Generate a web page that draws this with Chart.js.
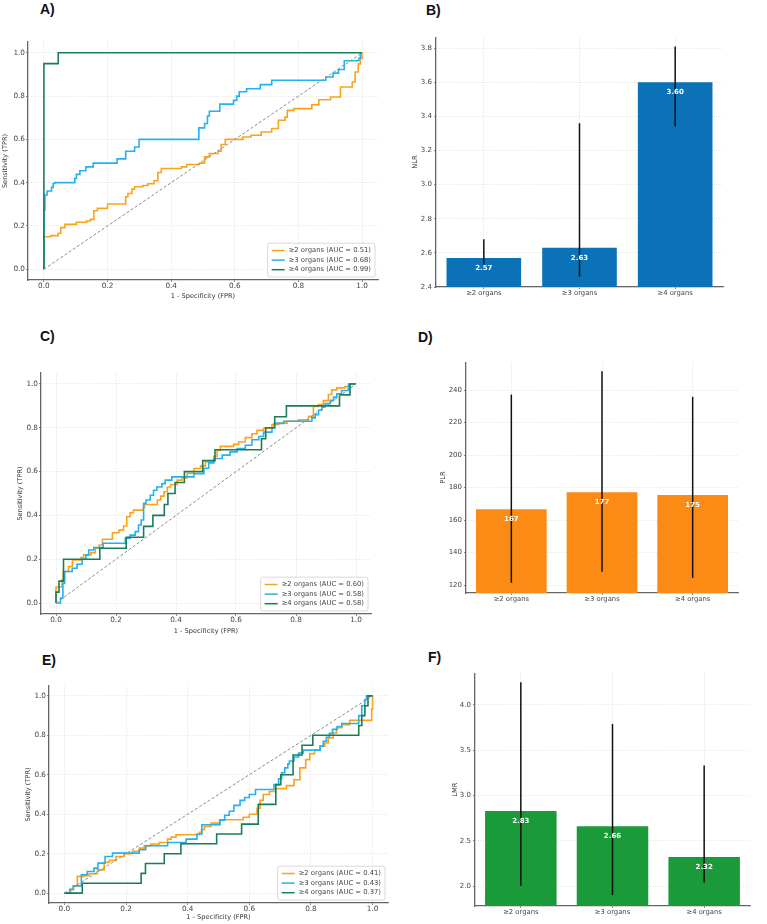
<!DOCTYPE html>
<html>
<head>
<meta charset="utf-8">
<script src="https://cdn.jsdelivr.net/npm/chart.js@4.4.1/dist/chart.umd.min.js"></script>
<style>
  body { margin: 0; background: #fff; }
  #fig { position: relative; width: 767px; height: 924px; overflow: hidden; background: #fff; }
  #fig canvas { position: absolute; }
  .tag { position: absolute; font: bold 14px "Liberation Sans", Arial, sans-serif; line-height: 14px; color: #111; }
</style>
</head>
<body>
<div id="fig">
  <div class="tag" style="left:40px;top:2px">A)</div>
  <div class="tag" style="left:426px;top:3px">B)</div>
  <div class="tag" style="left:40px;top:329px">C)</div>
  <div class="tag" style="left:418px;top:330px">D)</div>
  <div class="tag" style="left:42px;top:653px">E)</div>
  <div class="tag" style="left:428px;top:650px">F)</div>
  <canvas id="cA"></canvas>
  <canvas id="cB"></canvas>
  <canvas id="cC"></canvas>
  <canvas id="cD"></canvas>
  <canvas id="cE"></canvas>
  <canvas id="cF"></canvas>
</div>
<script>
// ---- data ----
const groups = ['≥2 organs', '≥3 organs', '≥4 organs'];
const rocTicks = [0, 0.2, 0.4, 0.6, 0.8, 1.0];
const chance = [[0, 0], [1, 1]];

// A) NLR ROC, points are (FPR, TPR)
const aucA = [0.51, 0.68, 0.99];
const rocA2 = [[0,0],[0,0.15],[0.022,0.15],[0.022,0.155],[0.045,0.155],[0.045,0.166],[0.053,0.166],[0.053,0.192],[0.066,0.192],[0.066,0.207],[0.102,0.207],[0.102,0.217],[0.134,0.217],[0.134,0.223],[0.146,0.223],[0.146,0.23],[0.157,0.23],[0.157,0.27],[0.168,0.27],[0.168,0.281],[0.2,0.281],[0.2,0.301],[0.257,0.301],[0.257,0.335],[0.264,0.335],[0.264,0.35],[0.277,0.35],[0.277,0.37],[0.285,0.37],[0.285,0.381],[0.311,0.381],[0.311,0.387],[0.327,0.387],[0.327,0.395],[0.346,0.395],[0.346,0.409],[0.358,0.409],[0.358,0.447],[0.369,0.447],[0.369,0.465],[0.432,0.465],[0.432,0.473],[0.449,0.473],[0.449,0.484],[0.489,0.484],[0.489,0.49],[0.505,0.49],[0.505,0.519],[0.52,0.519],[0.52,0.535],[0.547,0.535],[0.547,0.545],[0.557,0.545],[0.557,0.576],[0.57,0.576],[0.57,0.6],[0.625,0.6],[0.625,0.611],[0.651,0.611],[0.651,0.619],[0.683,0.619],[0.683,0.634],[0.716,0.634],[0.716,0.65],[0.737,0.65],[0.737,0.688],[0.758,0.688],[0.758,0.703],[0.765,0.703],[0.765,0.734],[0.786,0.734],[0.786,0.742],[0.842,0.742],[0.842,0.76],[0.864,0.76],[0.864,0.783],[0.901,0.783],[0.901,0.796],[0.932,0.796],[0.932,0.842],[0.969,0.842],[0.969,0.865],[0.978,0.865],[0.978,0.911],[0.988,0.911],[0.988,0.949],[0.995,0.949],[0.995,0.975],[1,0.975],[1,1]];
const rocA3 = [[0,0],[0,0.273],[0.003,0.273],[0.003,0.343],[0.01,0.343],[0.01,0.361],[0.024,0.361],[0.024,0.378],[0.029,0.378],[0.029,0.396],[0.034,0.396],[0.034,0.4],[0.097,0.4],[0.097,0.419],[0.102,0.419],[0.102,0.438],[0.113,0.438],[0.113,0.455],[0.132,0.455],[0.132,0.473],[0.155,0.473],[0.155,0.49],[0.23,0.49],[0.23,0.51],[0.257,0.51],[0.257,0.545],[0.285,0.545],[0.285,0.565],[0.299,0.565],[0.299,0.6],[0.487,0.6],[0.487,0.653],[0.505,0.653],[0.505,0.673],[0.514,0.673],[0.514,0.708],[0.52,0.708],[0.52,0.73],[0.553,0.73],[0.553,0.763],[0.596,0.763],[0.596,0.78],[0.606,0.78],[0.606,0.8],[0.614,0.8],[0.614,0.82],[0.637,0.82],[0.637,0.834],[0.68,0.834],[0.68,0.853],[0.716,0.853],[0.716,0.873],[0.886,0.873],[0.886,0.888],[0.909,0.888],[0.909,0.906],[0.926,0.906],[0.926,0.923],[0.944,0.923],[0.944,0.963],[0.99,0.963],[0.99,0.975],[0.995,0.975],[0.995,1],[1,1]];
const rocA4 = [[0,0],[0,0.95],[0.045,0.95],[0.045,1],[1,1]];

// C) PLR ROC
const aucC = [0.60, 0.58, 0.58];
const rocC2 = [[0,0],[0,0.073],[0.02,0.073],[0.02,0.106],[0.024,0.106],[0.024,0.144],[0.042,0.144],[0.042,0.167],[0.055,0.167],[0.055,0.197],[0.083,0.197],[0.083,0.208],[0.092,0.208],[0.092,0.22],[0.116,0.22],[0.116,0.23],[0.131,0.23],[0.131,0.25],[0.144,0.25],[0.144,0.265],[0.155,0.265],[0.155,0.291],[0.188,0.291],[0.188,0.321],[0.21,0.321],[0.21,0.333],[0.225,0.333],[0.225,0.352],[0.236,0.352],[0.236,0.394],[0.247,0.394],[0.247,0.412],[0.258,0.412],[0.258,0.424],[0.291,0.424],[0.291,0.436],[0.295,0.436],[0.295,0.45],[0.338,0.45],[0.338,0.47],[0.349,0.47],[0.349,0.488],[0.36,0.488],[0.36,0.508],[0.371,0.508],[0.371,0.53],[0.382,0.53],[0.382,0.541],[0.404,0.541],[0.404,0.561],[0.42,0.561],[0.42,0.571],[0.437,0.571],[0.437,0.591],[0.46,0.591],[0.46,0.614],[0.482,0.614],[0.482,0.626],[0.498,0.626],[0.498,0.644],[0.526,0.644],[0.526,0.67],[0.537,0.67],[0.537,0.697],[0.548,0.697],[0.548,0.715],[0.592,0.715],[0.592,0.724],[0.609,0.724],[0.609,0.735],[0.631,0.735],[0.631,0.755],[0.653,0.755],[0.653,0.773],[0.67,0.773],[0.67,0.788],[0.692,0.788],[0.692,0.798],[0.72,0.798],[0.72,0.815],[0.742,0.815],[0.742,0.821],[0.77,0.821],[0.77,0.83],[0.808,0.83],[0.808,0.836],[0.842,0.836],[0.842,0.852],[0.858,0.852],[0.858,0.897],[0.875,0.897],[0.875,0.906],[0.891,0.906],[0.891,0.924],[0.908,0.924],[0.908,0.952],[0.919,0.952],[0.919,0.973],[0.936,0.973],[0.936,0.982],[0.963,0.982],[0.963,0.988],[0.98,0.988],[0.98,1],[1,1]];
const rocC3 = [[0,0],[0.015,0],[0.015,0.023],[0.023,0.023],[0.023,0.09],[0.029,0.09],[0.029,0.144],[0.054,0.144],[0.054,0.159],[0.07,0.159],[0.07,0.177],[0.087,0.177],[0.087,0.2],[0.1,0.2],[0.1,0.22],[0.109,0.22],[0.109,0.242],[0.126,0.242],[0.126,0.253],[0.157,0.253],[0.157,0.273],[0.231,0.273],[0.231,0.295],[0.247,0.295],[0.247,0.31],[0.264,0.31],[0.264,0.326],[0.275,0.326],[0.275,0.356],[0.284,0.356],[0.284,0.379],[0.292,0.379],[0.292,0.455],[0.3,0.455],[0.3,0.47],[0.314,0.47],[0.314,0.492],[0.325,0.492],[0.325,0.515],[0.336,0.515],[0.336,0.53],[0.353,0.53],[0.353,0.545],[0.364,0.545],[0.364,0.561],[0.386,0.561],[0.386,0.576],[0.46,0.576],[0.46,0.59],[0.493,0.59],[0.493,0.615],[0.509,0.615],[0.509,0.64],[0.526,0.64],[0.526,0.66],[0.554,0.66],[0.554,0.675],[0.58,0.675],[0.58,0.69],[0.604,0.69],[0.604,0.705],[0.631,0.705],[0.631,0.72],[0.653,0.72],[0.653,0.745],[0.676,0.745],[0.676,0.76],[0.692,0.76],[0.692,0.78],[0.72,0.78],[0.72,0.8],[0.728,0.8],[0.728,0.82],[0.759,0.82],[0.759,0.83],[0.853,0.83],[0.853,0.845],[0.864,0.845],[0.864,0.86],[0.875,0.86],[0.875,0.88],[0.886,0.88],[0.886,0.895],[0.897,0.895],[0.897,0.91],[0.914,0.91],[0.914,0.925],[0.925,0.925],[0.925,0.94],[0.936,0.94],[0.936,0.955],[0.952,0.955],[0.952,0.97],[0.975,0.97],[0.975,1],[1,1]];
const rocC4 = [[0,0],[0,0.05],[0.01,0.05],[0.01,0.1],[0.025,0.1],[0.025,0.2],[0.146,0.2],[0.146,0.25],[0.234,0.25],[0.234,0.3],[0.292,0.3],[0.292,0.35],[0.323,0.35],[0.323,0.4],[0.361,0.4],[0.361,0.45],[0.373,0.45],[0.373,0.5],[0.397,0.5],[0.397,0.55],[0.428,0.55],[0.428,0.6],[0.489,0.6],[0.489,0.65],[0.53,0.65],[0.53,0.7],[0.685,0.7],[0.685,0.75],[0.699,0.75],[0.699,0.8],[0.729,0.8],[0.729,0.85],[0.768,0.85],[0.768,0.9],[0.945,0.9],[0.945,0.95],[0.98,0.95],[0.98,1],[1,1]];

// E) LMR ROC
const aucE = [0.41, 0.43, 0.37];
const rocE2 = [[0,0],[0.02,0],[0.02,0.017],[0.029,0.017],[0.029,0.037],[0.042,0.037],[0.042,0.085],[0.064,0.085],[0.064,0.088],[0.08,0.088],[0.08,0.098],[0.107,0.098],[0.107,0.118],[0.129,0.118],[0.129,0.156],[0.145,0.156],[0.145,0.166],[0.167,0.166],[0.167,0.186],[0.194,0.186],[0.194,0.2],[0.221,0.2],[0.221,0.212],[0.243,0.212],[0.243,0.228],[0.259,0.228],[0.259,0.24],[0.28,0.24],[0.28,0.249],[0.308,0.249],[0.308,0.257],[0.335,0.257],[0.335,0.274],[0.346,0.274],[0.346,0.284],[0.362,0.284],[0.362,0.296],[0.438,0.296],[0.438,0.308],[0.445,0.308],[0.445,0.321],[0.454,0.321],[0.454,0.338],[0.476,0.338],[0.476,0.355],[0.503,0.355],[0.503,0.372],[0.58,0.372],[0.58,0.385],[0.6,0.385],[0.6,0.4],[0.625,0.4],[0.625,0.43],[0.635,0.43],[0.635,0.47],[0.645,0.47],[0.645,0.5],[0.665,0.5],[0.665,0.515],[0.685,0.515],[0.685,0.53],[0.72,0.53],[0.72,0.545],[0.745,0.545],[0.745,0.575],[0.764,0.575],[0.764,0.635],[0.783,0.635],[0.783,0.677],[0.796,0.677],[0.796,0.707],[0.812,0.707],[0.812,0.724],[0.829,0.724],[0.829,0.745],[0.845,0.745],[0.845,0.761],[0.856,0.761],[0.856,0.787],[0.872,0.787],[0.872,0.812],[0.883,0.812],[0.883,0.838],[0.9,0.838],[0.9,0.854],[0.926,0.854],[0.926,0.876],[0.997,0.876],[0.997,0.934],[1,0.934],[1,1]];
const rocE3 = [[0,0],[0.018,0],[0.018,0.02],[0.029,0.02],[0.029,0.037],[0.055,0.037],[0.055,0.093],[0.074,0.093],[0.074,0.11],[0.096,0.11],[0.096,0.127],[0.109,0.127],[0.109,0.152],[0.132,0.152],[0.132,0.186],[0.156,0.186],[0.156,0.203],[0.243,0.203],[0.243,0.22],[0.264,0.22],[0.264,0.24],[0.335,0.24],[0.335,0.257],[0.395,0.257],[0.395,0.274],[0.43,0.274],[0.43,0.3],[0.446,0.3],[0.446,0.347],[0.505,0.347],[0.505,0.37],[0.52,0.37],[0.52,0.395],[0.535,0.395],[0.535,0.415],[0.55,0.415],[0.55,0.445],[0.57,0.445],[0.57,0.47],[0.585,0.47],[0.585,0.485],[0.6,0.485],[0.6,0.5],[0.62,0.5],[0.62,0.525],[0.68,0.525],[0.68,0.55],[0.695,0.55],[0.695,0.58],[0.705,0.58],[0.705,0.61],[0.715,0.61],[0.715,0.635],[0.725,0.635],[0.725,0.655],[0.73,0.655],[0.73,0.67],[0.745,0.67],[0.745,0.69],[0.76,0.69],[0.76,0.71],[0.775,0.71],[0.775,0.725],[0.83,0.725],[0.83,0.745],[0.84,0.745],[0.84,0.77],[0.85,0.77],[0.85,0.79],[0.86,0.79],[0.86,0.81],[0.87,0.81],[0.87,0.83],[0.885,0.83],[0.885,0.845],[0.9,0.845],[0.9,0.86],[0.955,0.86],[0.955,0.9],[0.965,0.9],[0.965,0.95],[0.975,0.95],[0.975,0.98],[0.98,0.98],[0.98,1],[1,1]];
const rocE4 = [[0,0],[0.058,0],[0.058,0.05],[0.249,0.05],[0.249,0.1],[0.263,0.1],[0.263,0.15],[0.324,0.15],[0.324,0.2],[0.378,0.2],[0.378,0.25],[0.494,0.25],[0.494,0.3],[0.575,0.3],[0.575,0.35],[0.629,0.35],[0.629,0.45],[0.686,0.45],[0.686,0.55],[0.702,0.55],[0.702,0.6],[0.742,0.6],[0.742,0.7],[0.771,0.7],[0.771,0.75],[0.806,0.75],[0.806,0.8],[0.955,0.8],[0.955,0.85],[0.965,0.85],[0.965,0.9],[0.975,0.9],[0.975,0.95],[0.985,0.95],[0.985,1],[1,1]];

// B) NLR bars with whiskers
const nlrMean = [2.57, 2.63, 3.60];
const nlrLow = [2.53, 2.46, 3.34];
const nlrHigh = [2.68, 3.36, 3.81];
const nlrTicks = [2.4, 2.6, 2.8, 3.0, 3.2, 3.4, 3.6, 3.8];

// D) PLR
const plrMean = [166.6, 177.2, 175.4];
const plrLow = [121.4, 128.2, 124.4];
const plrHigh = [237.3, 251.7, 235.9];
const plrTicks = [120, 140, 160, 180, 200, 220, 240];

// F) LMR
const lmrMean = [2.83, 2.66, 2.32];
const lmrLow = [2.0, 1.9, 2.04];
const lmrHigh = [4.25, 3.79, 3.33];
const lmrTicks = [2.0, 2.5, 3.0, 3.5, 4.0];

// ---- look ----
const rocColors = ['#fba21c', '#22b2ef', '#1b7d58'];
Chart.defaults.font.family = '"DejaVu Sans", sans-serif';
Chart.defaults.color = '#444';

// canvas box + forced axis sizes so the plot areas land where the figure has them
const layout = {
  A: {left: 0,   top: 36,  w: 382, h: 264, yW: 28, xH: 20, yPad: 1.6},
  B: {left: 410, top: 31,  w: 317, h: 268, yW: 26, xH: 12, yPad: 1.6},
  C: {left: 14,  top: 367, w: 361, h: 268, yW: 27, xH: 21, yPad: 2.1},
  D: {left: 437, top: 356, w: 305, h: 249, yW: 29, xH: 12, yPad: 1.8},
  E: {left: 22,  top: 680, w: 370, h: 241, yW: 27, xH: 18, yPad: 2.1},
  F: {left: 450, top: 667, w: 304, h: 251, yW: 25, xH: 12, yPad: 1.1}
};

const tickFont = {size: 7.3};
const titleFont = {size: 6.6};
const gridOpts = {color: '#dcdcdc', lineWidth: 0.8, tickColor: '#666', tickLength: 2};
const borderOpts = {color: '#666', width: 1.3, dash: [1, 1.5]};

function fixedTicks(vals){
  return axis => { axis.ticks = vals.map(v => ({value: v})); };
}

function place(id, box){
  const c = document.getElementById(id);
  c.width = box.w; c.height = box.h;
  c.style.left = box.left + 'px'; c.style.top = box.top + 'px';
  c.style.width = box.w + 'px'; c.style.height = box.h + 'px';
  return c;
}

// legend box in the lower right corner of the plot, like matplotlib's
function rocLegend(labels){
  return {
    id: 'rocLegend',
    afterDraw(chart){
      const {ctx, chartArea: a} = chart;
      ctx.save();
      ctx.font = '6.8px "DejaVu Sans"';
      const tw = Math.max(...labels.map(t => ctx.measureText(t).width));
      const rowH = 9.6;
      const w = 4 + 13 + 4 + tw + 4, h = labels.length * rowH + 5;
      const x = a.right - 3 - w, y = a.bottom - 3 - h;
      ctx.fillStyle = 'rgba(255,255,255,0.85)';
      ctx.strokeStyle = '#cfcfcf';
      ctx.lineWidth = 0.8;
      ctx.beginPath();
      ctx.roundRect(x, y, w, h, 2);
      ctx.fill(); ctx.stroke();
      labels.forEach((t, i) => {
        const cy = y + 2.5 + rowH * (i + 0.5);
        ctx.strokeStyle = rocColors[i];
        ctx.lineWidth = 1.5;
        ctx.beginPath(); ctx.moveTo(x + 4, cy); ctx.lineTo(x + 17, cy); ctx.stroke();
        ctx.fillStyle = '#444';
        ctx.textAlign = 'left'; ctx.textBaseline = 'middle';
        ctx.fillText(t, x + 21, cy);
      });
      ctx.restore();
    }
  };
}

function rocChart(id, box, curves, aucs){
  const canvas = place(id, box);
  const labels = groups.map((g, i) => `${g} (AUC = ${aucs[i].toFixed(2)})`);
  const datasets = curves.map((pts, i) => ({
    label: labels[i],
    data: pts.map(p => ({x: p[0], y: p[1]})),
    borderColor: rocColors[i], borderWidth: 1.6,
    showLine: true, pointRadius: 0, fill: false, order: 3 - i
  }));
  datasets.push({
    label: 'chance',
    data: chance.map(p => ({x: p[0], y: p[1]})),
    borderColor: '#8a8a8a', borderWidth: 1, borderDash: [3, 2],
    showLine: true, pointRadius: 0, fill: false, order: 0
  });
  return new Chart(canvas, {
    type: 'scatter',
    data: {datasets},
    options: {
      responsive: false, animation: false, devicePixelRatio: 1,
      layout: {padding: {top: 6, right: 4, left: 0, bottom: 0}},
      plugins: {legend: {display: false}, tooltip: {enabled: false}},
      scales: {
        x: {
          type: 'linear', min: -0.05, max: 1.05,
          afterBuildTicks: fixedTicks(rocTicks),
          afterFit: s => { s.height = box.xH; },
          ticks: {font: tickFont, padding: 0, autoSkip: false, maxRotation: 0, callback: v => v.toFixed(1)},
          grid: gridOpts, border: borderOpts,
          title: {display: true, text: '1 - Specificity (FPR)', font: titleFont, color: '#333', padding: {top: 0, bottom: 0}}
        },
        y: {
          min: -0.05, max: 1.05,
          afterBuildTicks: fixedTicks(rocTicks),
          afterFit: s => { s.width = box.yW; },
          ticks: {font: tickFont, padding: 1, autoSkip: false, callback: v => v.toFixed(1)},
          grid: gridOpts, border: borderOpts,
          title: {display: true, text: 'Sensitivity (TPR)', font: titleFont, color: '#333', padding: {top: box.yPad, bottom: 0}}
        }
      }
    },
    plugins: [rocLegend(labels)]
  });
}

// whiskers + white value labels on the bars
function barExtras(low, high, fmt){
  return {
    id: 'barExtras',
    afterDatasetsDraw(chart){
      const {ctx} = chart;
      const yS = chart.scales.y;
      const bars = chart.getDatasetMeta(0).data;
      const vals = chart.data.datasets[0].data;
      ctx.save();
      ctx.strokeStyle = '#111';
      ctx.lineWidth = 1.5;
      bars.forEach((b, i) => {
        ctx.beginPath();
        ctx.moveTo(b.x, yS.getPixelForValue(low[i]));
        ctx.lineTo(b.x, yS.getPixelForValue(high[i]));
        ctx.stroke();
      });
      ctx.fillStyle = '#fff';
      ctx.font = 'bold 7px "DejaVu Sans"';
      ctx.textAlign = 'center'; ctx.textBaseline = 'middle';
      bars.forEach((b, i) => ctx.fillText(fmt(vals[i]), b.x, b.y + 10));
      ctx.restore();
    }
  };
}

function barChart(id, box, means, low, high, ticks, range, color, yTitle, tickFmt, valFmt){
  const canvas = place(id, box);
  return new Chart(canvas, {
    type: 'bar',
    data: {labels: groups, datasets: [{data: means, backgroundColor: color, barPercentage: 0.78, categoryPercentage: 1}]},
    options: {
      responsive: false, animation: false, devicePixelRatio: 1,
      layout: {padding: {top: 6, right: 4, left: 0, bottom: 0}},
      plugins: {legend: {display: false}, tooltip: {enabled: false}},
      scales: {
        x: {
          afterFit: s => { s.height = box.xH; },
          ticks: {font: {size: 6.8}, padding: 0},
          grid: {...gridOpts, offset: false}, border: borderOpts
        },
        y: {
          min: range[0], max: range[1],
          afterBuildTicks: fixedTicks(ticks),
          afterFit: s => { s.width = box.yW; },
          ticks: {font: {size: 7}, padding: 2, autoSkip: false, callback: tickFmt},
          grid: gridOpts, border: borderOpts,
          title: {display: true, text: yTitle, font: {size: 6.7}, color: '#333', padding: {top: box.yPad, bottom: 0}}
        }
      }
    },
    plugins: [barExtras(low, high, valFmt)]
  });
}

rocChart('cA', layout.A, [rocA2, rocA3, rocA4], aucA);
rocChart('cC', layout.C, [rocC2, rocC3, rocC4], aucC);
rocChart('cE', layout.E, [rocE2, rocE3, rocE4], aucE);

barChart('cB', layout.B, nlrMean, nlrLow, nlrHigh, nlrTicks, [2.4, 3.864], '#0b72b7', 'NLR', v => v.toFixed(1), v => v.toFixed(2));
barChart('cD', layout.D, plrMean, plrLow, plrHigh, plrTicks, [115.1, 257.2], '#fb8b14', 'PLR', v => v.toFixed(0), v => v.toFixed(0));
barChart('cF', layout.F, lmrMean, lmrLow, lmrHigh, lmrTicks, [1.78, 4.35], '#1b9a3a', 'LMR', v => v.toFixed(1), v => v.toFixed(2));
</script>
</body>
</html>
